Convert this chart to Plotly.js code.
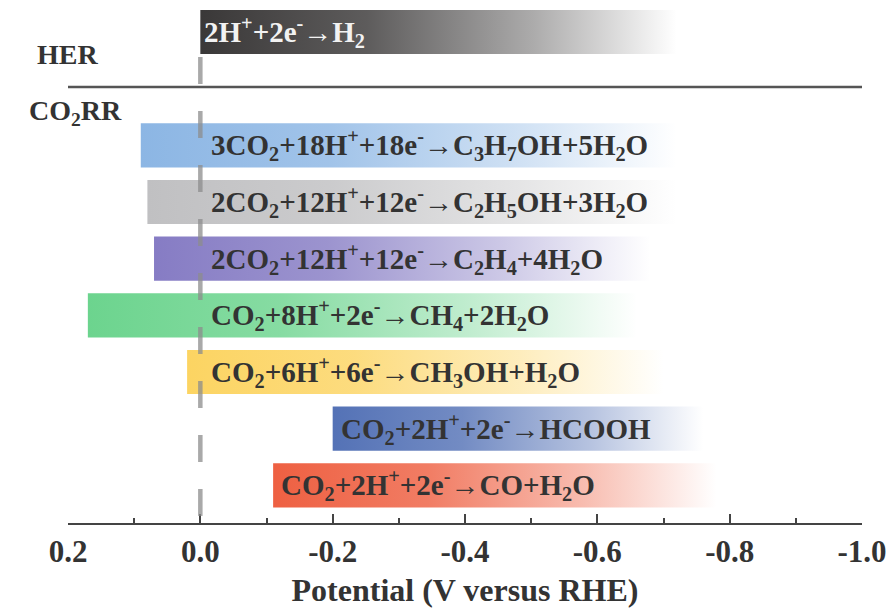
<!DOCTYPE html>
<html><head><meta charset="utf-8">
<script src="https://cdn.plot.ly/plotly-3.0.1.min.js"></script>
<style>html,body{margin:0;padding:0;background:#fff}#chart{width:890px;height:610px}</style>
</head><body><div id="chart"></div>
<script>
// ---- data ----
const reactions = [
  '2H<sup>+</sup>+2e<sup>-</sup>→H<sub>2</sub>',
  '3CO<sub>2</sub>+18H<sup>+</sup>+18e<sup>-</sup>→C<sub>3</sub>H<sub>7</sub>OH+5H<sub>2</sub>O',
  '2CO<sub>2</sub>+12H<sup>+</sup>+12e<sup>-</sup>→C<sub>2</sub>H<sub>5</sub>OH+3H<sub>2</sub>O',
  '2CO<sub>2</sub>+12H<sup>+</sup>+12e<sup>-</sup>→C<sub>2</sub>H<sub>4</sub>+4H<sub>2</sub>O',
  'CO<sub>2</sub>+8H<sup>+</sup>+2e<sup>-</sup>→CH<sub>4</sub>+2H<sub>2</sub>O',
  'CO<sub>2</sub>+6H<sup>+</sup>+6e<sup>-</sup>→CH<sub>3</sub>OH+H<sub>2</sub>O',
  'CO<sub>2</sub>+2H<sup>+</sup>+2e<sup>-</sup>→HCOOH',
  'CO<sub>2</sub>+2H<sup>+</sup>+2e<sup>-</sup>→CO+H<sub>2</sub>O'
];
const reactionGroup = ['HER','CO2RR','CO2RR','CO2RR','CO2RR','CO2RR','CO2RR','CO2RR'];
const groupLabels = ['HER','CO<sub>2</sub>RR'];
const onsetPotential = [0.00, 0.09, 0.08, 0.07, 0.17, 0.02, -0.20, -0.11];
const fadeEndPotential = [-0.72, -0.72, -0.72, -0.68, -0.66, -0.70, -0.76, -0.78];
const tickValues = [0.2, 0.0, -0.2, -0.4, -0.6, -0.8, -1.0];
const tickLabels = ['0.2', '0.0', '-0.2', '-0.4', '-0.6', '-0.8', '-1.0'];

// ---- styles ----
const barRGB = [
  [58,56,56], [140,182,228], [192,192,194], [134,124,196],
  [108,212,142], [252,212,98], [84,114,182], [238,96,66]
];
const textColors = ['#f2f2f2','#333','#333','#333','#333','#333','#333','#333'];
const FONT = 'Liberation Serif, Times New Roman, serif';

// row layout: HER on row 0, a blank gap row, then CO2RR reactions
const rowOf = reactionGroup.map((g, i) => g === 'HER' ? i : i + 1);
const half = 0.39;

const traces = reactions.map((r, i) => {
  const s = onsetPotential[i], e = fadeEndPotential[i], y = rowOf[i];
  const c = barRGB[i];
  const rgba = a => `rgba(${c[0]},${c[1]},${c[2]},${a})`;
  return {
    type: 'scatter', mode: 'lines',
    x: [s, e, e, s, s],
    y: [y - half, y - half, y + half, y + half, y - half],
    line: {width: 0, color: rgba(0)},
    fill: 'toself',
    fillgradient: {
      type: 'horizontal', start: s, stop: e,
      colorscale: [[0, rgba(1)], [0.35, rgba(0.82)], [0.7, rgba(0.42)], [1, rgba(0)]]
    },
    hoverinfo: 'skip', showlegend: false
  };
});

// text starts just right of the 0 V line or of the bar start, whichever is further right
const annotations = reactions.map((r, i) => ({
  xref: 'x', yref: 'y', x: Math.min(onsetPotential[i], 0), y: rowOf[i],
  xanchor: 'left', yanchor: 'middle', xshift: i === 0 ? 2 : (onsetPotential[i] < 0 ? 6 : 9),
  text: '<b>' + r + '</b>', showarrow: false,
  font: {family: FONT, size: 29, color: textColors[i]}
}));
annotations.push({
  xref: 'x', yref: 'y', x: 0.2, y: 0.4, xanchor: 'center', yanchor: 'middle', xshift: -1,
  text: '<b>' + groupLabels[0] + '</b>', showarrow: false,
  font: {family: FONT, size: 28, color: '#333'}
});
annotations.push({
  xref: 'x', yref: 'y', x: 0.2, y: 1.42, xanchor: 'center', yanchor: 'middle', xshift: 7,
  text: '<b>' + groupLabels[1] + '</b>', showarrow: false,
  font: {family: FONT, size: 28, color: '#333'}
});

const layout = {
  width: 890, height: 610,
  margin: {l: 68, r: 28, t: 0, b: 87},
  paper_bgcolor: '#fff', plot_bgcolor: '#fff',
  xaxis: {
    range: [0.2, -1.0], showgrid: false, zeroline: false,
    showline: true, linecolor: '#444', linewidth: 2,
    ticks: 'inside', ticklen: 9, tickwidth: 2, tickcolor: '#444',
    tickmode: 'array', tickvals: tickValues, ticktext: tickLabels,
    tickfont: {family: FONT, size: 31, color: '#333', weight: 'bold'},
    minor: {dtick: 0.1, tick0: 0, ticks: 'inside', ticklen: 5, tickwidth: 2, tickcolor: '#444'},
    title: {text: '<b>Potential (V versus RHE)</b>', font: {family: FONT, size: 32, color: '#333'}, standoff: 10},
    fixedrange: true
  },
  yaxis: {
    range: [8.665, -0.565], visible: false, showgrid: false, zeroline: false, fixedrange: true
  },
  shapes: [
    {type: 'line', xref: 'x', yref: 'y', x0: 0.2, x1: -1.0, y0: 0.97, y1: 0.97,
     line: {color: '#555', width: 2.5}, layer: 'above'},
    {type: 'line', xref: 'x', yref: 'y', x0: 0, x1: 0, y0: 0.44, y1: 8.665,
     line: {color: 'rgba(140,140,140,0.75)', width: 4.5, dash: '27px,27px'}, layer: 'above'}
  ],
  annotations: annotations,
  showlegend: false
};

Plotly.newPlot('chart', traces, layout, {displayModeBar: false, staticPlot: true});
</script>
</body></html>
